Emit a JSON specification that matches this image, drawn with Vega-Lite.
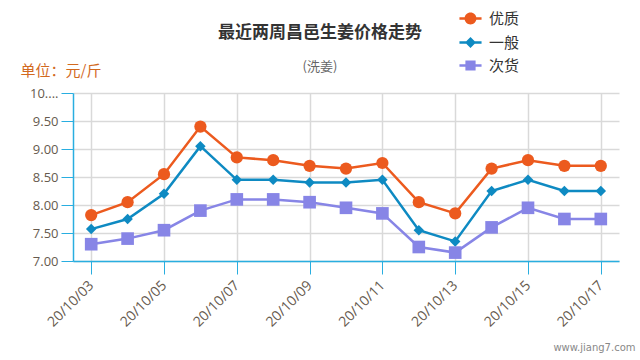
{
  "$schema": "https://vega.github.io/schema/vega-lite/v6.json",
  "width": 546,
  "height": 168,
  "autosize": {"type": "none"},
  "padding": {"left": 73, "top": 93, "right": 21, "bottom": 99},
  "background": "white",
  "title": {
    "text": "最近两周昌邑生姜价格走势",
    "subtitle": "(洗姜)",
    "anchor": "middle",
    "dx": -26,
    "dy": 86,
    "offset": 20,
    "font": "Noto Sans CJK SC",
    "fontSize": 17,
    "fontWeight": "bold",
    "color": "#333333",
    "subtitleFont": "Noto Sans CJK SC",
    "subtitleFontSize": 13,
    "subtitleColor": "#666666",
    "subtitlePadding": 19
  },
  "config": {
    "view": {"stroke": null},
    "font": "Open Sans",
    "legend": {
      "orient": "none",
      "legendX": 388,
      "legendY": -84,
      "labelFont": "Noto Sans CJK SC",
      "labelFontSize": 15,
      "labelColor": "#333333",
      "rowPadding": 5,
      "symbolSize": 289,
      "symbolOpacity": 1,
      "labelOffset": 9
    }
  },
  "data": {
    "values": [
      {"date": "20/10/03", "grade": "优质", "price": 7.82},
      {"date": "20/10/04", "grade": "优质", "price": 8.05},
      {"date": "20/10/05", "grade": "优质", "price": 8.55},
      {"date": "20/10/06", "grade": "优质", "price": 9.4},
      {"date": "20/10/07", "grade": "优质", "price": 8.85},
      {"date": "20/10/08", "grade": "优质", "price": 8.8},
      {"date": "20/10/09", "grade": "优质", "price": 8.7},
      {"date": "20/10/10", "grade": "优质", "price": 8.65},
      {"date": "20/10/11", "grade": "优质", "price": 8.75},
      {"date": "20/10/12", "grade": "优质", "price": 8.05},
      {"date": "20/10/13", "grade": "优质", "price": 7.85},
      {"date": "20/10/14", "grade": "优质", "price": 8.65},
      {"date": "20/10/15", "grade": "优质", "price": 8.8},
      {"date": "20/10/16", "grade": "优质", "price": 8.7},
      {"date": "20/10/17", "grade": "优质", "price": 8.7},
      {"date": "20/10/03", "grade": "一般", "price": 7.57},
      {"date": "20/10/04", "grade": "一般", "price": 7.75},
      {"date": "20/10/05", "grade": "一般", "price": 8.2},
      {"date": "20/10/06", "grade": "一般", "price": 9.05},
      {"date": "20/10/07", "grade": "一般", "price": 8.45},
      {"date": "20/10/08", "grade": "一般", "price": 8.45},
      {"date": "20/10/09", "grade": "一般", "price": 8.4},
      {"date": "20/10/10", "grade": "一般", "price": 8.4},
      {"date": "20/10/11", "grade": "一般", "price": 8.45},
      {"date": "20/10/12", "grade": "一般", "price": 7.55},
      {"date": "20/10/13", "grade": "一般", "price": 7.35},
      {"date": "20/10/14", "grade": "一般", "price": 8.25},
      {"date": "20/10/15", "grade": "一般", "price": 8.45},
      {"date": "20/10/16", "grade": "一般", "price": 8.25},
      {"date": "20/10/17", "grade": "一般", "price": 8.25},
      {"date": "20/10/03", "grade": "次货", "price": 7.3},
      {"date": "20/10/04", "grade": "次货", "price": 7.4},
      {"date": "20/10/05", "grade": "次货", "price": 7.55},
      {"date": "20/10/06", "grade": "次货", "price": 7.9},
      {"date": "20/10/07", "grade": "次货", "price": 8.1},
      {"date": "20/10/08", "grade": "次货", "price": 8.1},
      {"date": "20/10/09", "grade": "次货", "price": 8.05},
      {"date": "20/10/10", "grade": "次货", "price": 7.95},
      {"date": "20/10/11", "grade": "次货", "price": 7.85},
      {"date": "20/10/12", "grade": "次货", "price": 7.25},
      {"date": "20/10/13", "grade": "次货", "price": 7.15},
      {"date": "20/10/14", "grade": "次货", "price": 7.6},
      {"date": "20/10/15", "grade": "次货", "price": 7.95},
      {"date": "20/10/16", "grade": "次货", "price": 7.75},
      {"date": "20/10/17", "grade": "次货", "price": 7.75}
    ]
  },
  "encoding": {
    "x": {
      "field": "date",
      "type": "ordinal",
      "scale": {"type": "point", "padding": 0.5},
      "axis": {
        "values": ["20/10/03", "20/10/05", "20/10/07", "20/10/09", "20/10/11", "20/10/13", "20/10/15", "20/10/17"],
        "title": "www.jiang7.com",
        "titleAnchor": "end",
        "titleAlign": "right",
        "titleBaseline": "top",
        "titleX": 562,
        "titleY": 81,
        "titleFont": "DejaVu Sans",
        "titleFontSize": 10,
        "titleFontWeight": "normal",
        "titleColor": "#888888",
        "labelAngle": -45,
        "labelAlign": "right",
        "labelBaseline": "middle",
        "labelFontSize": 14,
        "labelColor": "#665a4e",
        "labelPadding": 9,
        "domainColor": "#29aee0",
        "domainWidth": 1.5,
        "tickColor": "#29aee0",
        "tickSize": 13,
        "tickWidth": 1,
        "grid": true,
        "gridColor": "#d9d9d9",
        "gridWidth": 1.5
      }
    },
    "y": {
      "field": "price",
      "type": "quantitative",
      "scale": {"domain": [7, 10], "zero": false, "nice": false},
      "axis": {
        "values": [7, 7.5, 8, 8.5, 9, 9.5, 10],
        "labelExpr": "datum.value == 10 ? '10....' : format(datum.value, '.2f')",
        "title": "单位：元/斤",
        "titleAngle": 0,
        "titleAlign": "left",
        "titleBaseline": "middle",
        "titleX": -53,
        "titleY": -23,
        "titleFont": "Noto Sans CJK SC",
        "titleFontSize": 15,
        "titleFontWeight": "normal",
        "titleColor": "#d2691e",
        "labelFontSize": 13,
        "labelColor": "#665a4e",
        "labelPadding": 3,
        "domainColor": "#29aee0",
        "domainWidth": 1.5,
        "tickColor": "#29aee0",
        "tickSize": 12,
        "grid": true,
        "gridColor": "#d9d9d9",
        "gridWidth": 1.5
      }
    }
  },
  "layer": [
    {
      "mark": {"type": "line", "strokeWidth": 2.5},
      "encoding": {
        "stroke": {
          "field": "grade",
          "type": "nominal",
          "title": null,
          "legend": null,
          "scale": {"domain": ["次货", "一般", "优质"], "range": ["#8785e6", "#0e8ac2", "#ec5a1e"]}
        }
      }
    },
    {
      "transform": [{"filter": "datum.grade == '优质'"}],
      "mark": {"type": "point", "shape": "circle", "filled": true, "opacity": 1, "size": 150},
      "encoding": {
        "fill": {
          "field": "grade",
          "type": "nominal",
          "title": null,
          "legend": {"symbolSize": 289},
          "scale": {"domain": ["优质", "一般", "次货"], "range": ["#ec5a1e", "#0e8ac2", "#8785e6"]}
        }
      }
    },
    {
      "transform": [{"filter": "datum.grade == '一般'"}],
      "mark": {"type": "point", "shape": "diamond", "filled": true, "opacity": 1, "size": 110},
      "encoding": {
        "fill": {"field": "grade", "type": "nominal", "title": null, "legend": {"symbolSize": 289}}
      }
    },
    {
      "transform": [{"filter": "datum.grade == '次货'"}],
      "mark": {"type": "point", "shape": "square", "filled": true, "opacity": 1, "size": 160},
      "encoding": {
        "fill": {"field": "grade", "type": "nominal", "title": null, "legend": {"symbolSize": 289}}
      }
    },
    {
      "mark": {"type": "point", "filled": true, "opacity": 0, "size": 289},
      "encoding": {
        "shape": {
          "field": "grade",
          "type": "nominal",
          "title": null,
          "legend": {"symbolSize": 289},
          "scale": {
            "domain": ["优质", "一般", "次货"],
            "range": [
              "M-1.3,-0.14H1.3V0.14H-1.3ZM0.7,0A0.7,0.7 0 1,1 -0.7,0A0.7,0.7 0 1,1 0.7,0Z",
              "M-1.3,-0.14H1.3V0.14H-1.3ZM0,-0.64L0.64,0L0,0.64L-0.64,0Z",
              "M-1.3,-0.14H1.3V0.14H-1.3ZM-0.6,-0.6H0.6V0.6H-0.6Z"
            ]
          }
        },
        "fill": {"field": "grade", "type": "nominal", "title": null, "legend": {"symbolSize": 289}}
      }
    }
  ]
}
